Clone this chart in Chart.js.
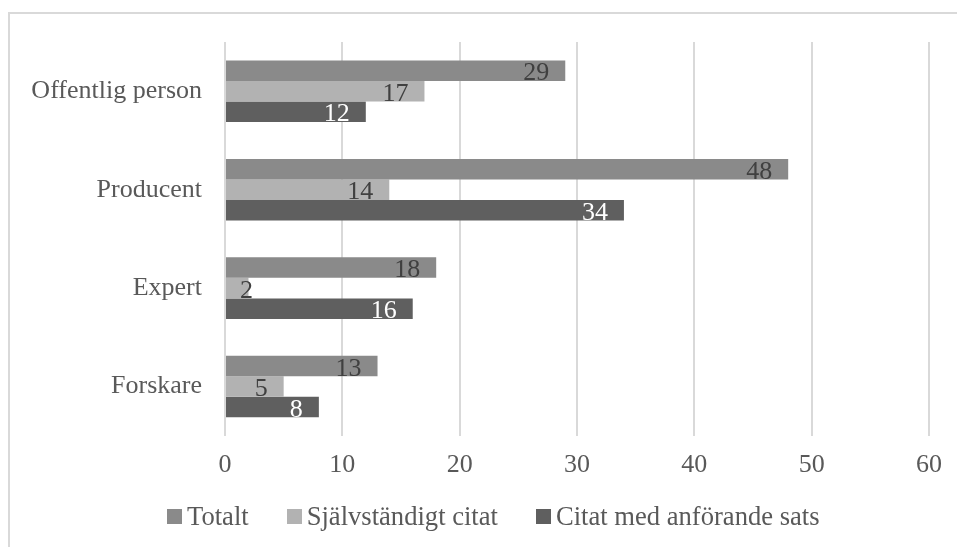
<!DOCTYPE html>
<html>
<head>
<meta charset="utf-8">
<script src="https://cdn.jsdelivr.net/npm/chart.js@4"></script>
<style>
  html, body { margin: 0; padding: 0; background: #fff; overflow: hidden; }
  #frame { position: absolute; left: 8px; top: 12px; width: 1000px; height: 600px; border: 2px solid #d9d9d9; box-sizing: border-box; }
  #wrap { position: absolute; left: 0; top: 0; width: 957px; height: 547px; }
  #legend { position: absolute; left: 167px; top: 502px; display: flex; align-items: center;
    font-family: 'Liberation Serif', 'Times New Roman', serif; font-size: 26.6px; color: #595959; line-height: 28px; white-space: nowrap; }
  #legend .item { display: flex; align-items: center; margin-right: 38px; }
  #legend .box { width: 15px; height: 15px; margin-right: 5px; margin-top: 1px; }
</style>
</head>
<body>
<div id="frame"></div>
<div id="wrap"><canvas id="chart"></canvas></div>
<div id="legend"></div>
<script>
  const categories = ['Offentlig person', 'Producent', 'Expert', 'Forskare'];
  const totalt = [29, 48, 18, 13];
  const sjalvstandigt = [17, 14, 2, 5];
  const anforande = [12, 34, 16, 8];
  const seriesNames = ['Totalt', 'Självständigt citat', 'Citat med anförande sats'];
  const xTicks = [0, 10, 20, 30, 40, 50, 60];

  const FONT = "'Liberation Serif', 'Times New Roman', serif";
  const COLORS = { totalt: '#8a8a8a', sjalv: '#b2b2b2', anf: '#5f5f5f', grid: '#d9d9d9', text: '#595959' };

  // labels inside the bar end, like Excel's "inside end"
  const barLabels = {
    id: 'barLabels',
    afterDatasetsDraw(chart) {
      const ctx = chart.ctx;
      ctx.save();
      ctx.font = '26px ' + FONT;
      ctx.textAlign = 'right';
      ctx.textBaseline = 'alphabetic';
      chart.data.datasets.forEach((ds, di) => {
        const meta = chart.getDatasetMeta(di);
        ctx.fillStyle = di === 2 ? '#ffffff' : '#404040';
        meta.data.forEach((bar, i) => {
          const txt = String(ds.data[i]);
          const w = ctx.measureText(txt).width;
          const x = Math.max(bar.x - 16, bar.base + 14 + w);
          ctx.fillText(txt, x, bar.y + 9.5);
        });
      });
      ctx.restore();
    }
  };

  const chart = new Chart(document.getElementById('chart'), {
    type: 'bar',
    data: {
      labels: categories,
      datasets: [
        { label: seriesNames[0], data: totalt, backgroundColor: COLORS.totalt },
        { label: seriesNames[1], data: sjalvstandigt, backgroundColor: COLORS.sjalv },
        { label: seriesNames[2], data: anforande, backgroundColor: COLORS.anf },
      ],
    },
    options: {
      indexAxis: 'y',
      responsive: true, maintainAspectRatio: false, animation: false,
      categoryPercentage: 0.625, barPercentage: 1,
      layout: { padding: { left: 0, right: 28, top: 42, bottom: 52 } },
      plugins: {
        legend: { display: false },
        tooltip: { enabled: false },
      },
      scales: {
        x: {
          min: 0, max: 60,
          afterBuildTicks(scale) { scale.ticks = xTicks.map(v => ({ value: v })); },
          grid: { color: COLORS.grid, lineWidth: 2, drawTicks: false },
          border: { display: false },
          ticks: { color: COLORS.text, padding: 14, font: { family: FONT, size: 26 } },
        },
        y: {
          afterFit(scale) { scale.width = 225; },
          grid: { display: false, drawTicks: false },
          border: { display: false },
          ticks: { color: COLORS.text, padding: 23, font: { family: FONT, size: 26 } },
        },
      },
    },
    plugins: [barLabels],
  });

  // legend in the Excel style: small square, tight gap, series name
  const legendEl = document.getElementById('legend');
  chart.data.datasets.forEach(ds => {
    const item = document.createElement('div');
    item.className = 'item';
    const box = document.createElement('span');
    box.className = 'box';
    box.style.background = ds.backgroundColor;
    const label = document.createElement('span');
    label.textContent = ds.label;
    item.appendChild(box);
    item.appendChild(label);
    legendEl.appendChild(item);
  });
</script>
</body>
</html>
